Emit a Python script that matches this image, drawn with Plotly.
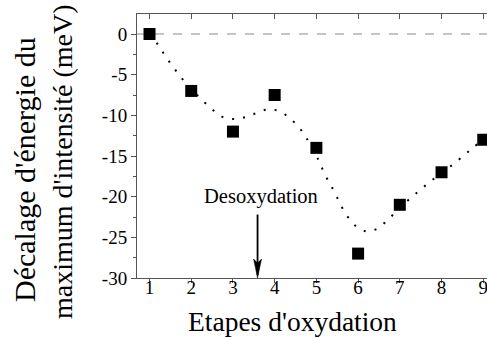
import plotly.graph_objects as go

# Measured data
etapes = [1, 2, 3, 4, 5, 6, 7, 8, 9]
decalage = [0, -7, -12, -7.5, -14, -27, -21, -17, -13]

# Smooth guide curve
fit_x = [1.0, 1.22, 1.40, 1.59, 1.80, 2.03, 2.26, 2.52, 2.77, 3.04, 3.29, 3.55, 3.81,
         4.07, 4.34, 4.59, 4.76, 5.05, 5.17, 5.31, 5.45, 5.57, 5.73, 5.93, 6.19, 6.45,
         6.71, 6.96, 7.21, 7.49, 7.76, 8.02, 8.27, 8.53, 8.77, 9.0]
fit_y = [0, -1.44, -2.87, -4.22, -5.61, -6.9, -8.11, -9.34, -10.24, -10.45, -10.24,
         -9.75, -9.30, -9.42, -10.24, -11.55, -12.78, -15.48, -16.88, -18.30, -19.58,
         -20.88, -22.32, -23.55, -24.25, -23.96, -22.85, -21.6, -20.39, -19.16, -18.02,
         -17.0, -16.06, -14.95, -13.93, -12.9]

x_ticks = [1, 2, 3, 4, 5, 6, 7, 8, 9]
y_ticks = [0, -5, -10, -15, -20, -25, -30]

arrow_x = 3.59
arrow_top = -22.0
arrow_bottom = -30

FONT = "Liberation Serif"
AXC = "#555555"

fig = go.Figure()

fig.add_trace(go.Scatter(x=[0.70, 9.09], y=[0, 0], mode="lines",
                         line=dict(color="#c4c4c4", width=2, dash="9px,9px"),
                         hoverinfo="skip", showlegend=False))
fig.add_trace(go.Scatter(x=fit_x, y=fit_y, mode="lines",
                         line=dict(color="black", width=2, dash="2px,9px", shape="spline"),
                         showlegend=False))
fig.add_trace(go.Scatter(x=etapes, y=decalage, mode="markers",
                         marker=dict(symbol="square", size=12, color="black"),
                         showlegend=False))
# invisible trace for top axis
fig.add_trace(go.Scatter(x=[1], y=[0], xaxis="x2", mode="markers",
                         marker=dict(opacity=0), hoverinfo="skip", showlegend=False))

fig.update_layout(
    width=487, height=339,
    margin=dict(l=137, r=0, t=14, b=61),
    paper_bgcolor="white", plot_bgcolor="white",
    font=dict(family=FONT, color="black"),
    xaxis=dict(range=[0.70, 9.09], tickvals=x_ticks, ticks="outside", ticklen=4,
               tickcolor=AXC, showline=True, linecolor=AXC, linewidth=1,
               showgrid=False, zeroline=False, tickfont=dict(size=19, family=FONT),
               ticklabelstandoff=-12, ticklabeloverflow="allow"),
    xaxis2=dict(range=[0.70, 9.09], tickvals=x_ticks, ticks="inside", ticklen=5,
                tickcolor=AXC, showline=True, linecolor=AXC, linewidth=1,
                showgrid=False, zeroline=False, showticklabels=False,
                overlaying="x", side="top"),
    yaxis=dict(range=[-30, 2.46], tickvals=y_ticks, ticktext=[str(v) for v in y_ticks],
               ticks="outside", ticklen=5, tickcolor=AXC, showline=True,
               linecolor=AXC, linewidth=1, showgrid=False, zeroline=False,
               tickfont=dict(size=19, family=FONT),
               minor=dict(ticks="outside", ticklen=3, tickcolor=AXC, dtick=2.5, tick0=0)),
)

# arrow shaft
fig.add_annotation(x=arrow_x, y=arrow_bottom, ax=arrow_x, ay=arrow_top,
                   xref="x", yref="y", axref="x", ayref="y", text="",
                   showarrow=True, arrowhead=0, arrowwidth=1.8,
                   arrowcolor="black", standoff=3)
# arrow head (pixel-sized, anchored at the arrow tip)
fig.add_shape(type="path", xref="x", yref="y", xsizemode="pixel", ysizemode="pixel",
              xanchor=arrow_x, yanchor=arrow_bottom,
              path="M-4,19 L0,15 L4,19 L0,0 Z",
              fillcolor="black", line=dict(color="black", width=0.5))
fig.add_annotation(x=3.67, y=-20.0, xref="x", yref="y", text="Desoxydation",
                   showarrow=False, font=dict(size=20.5, family=FONT),
                   xanchor="center", yanchor="middle")
fig.add_annotation(x=(292.5 - 137) / 350, y=(278 - 321.7) / 264, xref="paper", yref="paper",
                   text="Etapes d'oxydation", showarrow=False,
                   xanchor="center", yanchor="middle",
                   font=dict(size=27.5, family=FONT))
fig.add_annotation(x=(25 - 137) / 350, y=(278 - 170) / 264, xref="paper", yref="paper",
                   text="Décalage d'énergie du", textangle=-90, showarrow=False,
                   xanchor="center", yanchor="middle",
                   font=dict(size=30, family=FONT))
fig.add_annotation(x=(62 - 137) / 350, y=(278 - 162) / 264, xref="paper", yref="paper",
                   text="maximum d'intensité (meV)", textangle=-90, showarrow=False,
                   xanchor="center", yanchor="middle",
                   font=dict(size=28, family=FONT))

fig.write_html("out.html", config={"displayModeBar": False},
               post_script="document.body.style.margin='0px';")
